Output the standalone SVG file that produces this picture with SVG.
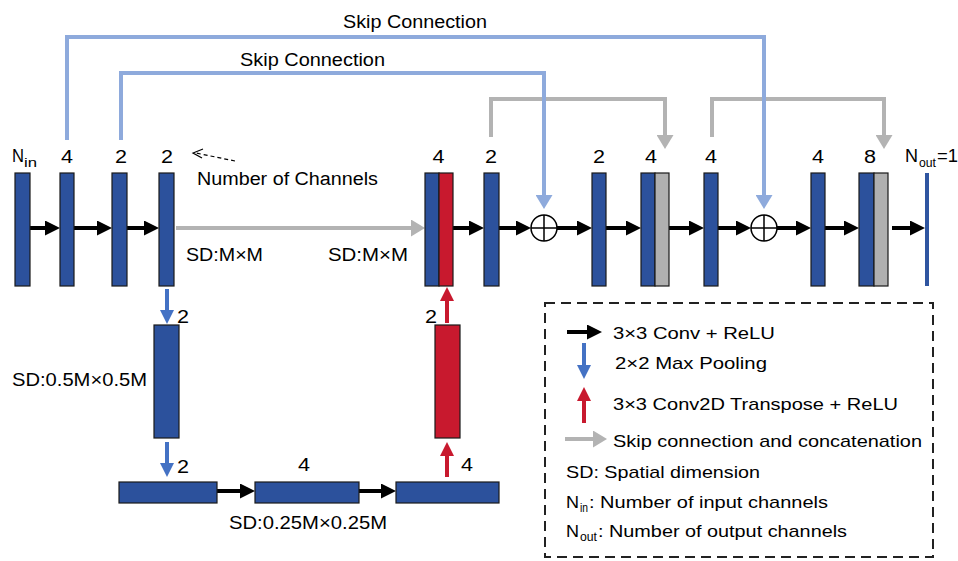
<svg xmlns="http://www.w3.org/2000/svg" width="958" height="561" viewBox="0 0 958 561">
  <style>
    text { font-family: "Liberation Sans", Arial, sans-serif; fill: #000; }
    .lbl { font-size: 18px; }
    .num { font-size: 18px; text-anchor: middle; }
    .leg { font-size: 17px; }
    .sub { font-size: 12px; }
    .blk { fill: #2c519c; stroke: #1a1a1a; stroke-width: 1.2; }
    .red { fill: #c8192e; stroke: #1a1a1a; stroke-width: 1.2; }
    .gry { fill: #b0b0b0; stroke: #1a1a1a; stroke-width: 1.2; }
    .conv { fill: none; stroke: #000; stroke-width: 4; marker-end: url(#hBlack); }
    .cat { fill: none; stroke: #b3b3b3; stroke-width: 4; marker-end: url(#hGray); }
    .skip { fill: none; stroke: #8eaadc; stroke-width: 4; marker-end: url(#hSky); }
    .pool { fill: none; stroke: #4472c4; stroke-width: 4; marker-end: url(#hBlue); }
    .up { fill: none; stroke: #c8192e; stroke-width: 4; marker-end: url(#hRed); }
    .sum { fill: #fff; stroke: #000; stroke-width: 1.5; }
  </style>
  <defs>
    <marker id="hBlack" markerUnits="userSpaceOnUse" markerWidth="15" markerHeight="15" refX="11" refY="7.5" orient="auto">
      <path d="M0,0 L15,7.5 L0,15 z" fill="#000"/>
    </marker>
    <marker id="hGray" markerUnits="userSpaceOnUse" markerWidth="14" markerHeight="17" refX="10" refY="8.5" orient="auto">
      <path d="M0,0 L14,8.5 L0,17 z" fill="#b3b3b3"/>
    </marker>
    <marker id="hSky" markerUnits="userSpaceOnUse" markerWidth="14" markerHeight="17" refX="10" refY="8.5" orient="auto">
      <path d="M0,0 L14,8.5 L0,17 z" fill="#8eaadc"/>
    </marker>
    <marker id="hBlue" markerUnits="userSpaceOnUse" markerWidth="14" markerHeight="14" refX="10" refY="7" orient="auto">
      <path d="M0,0 L14,7 L0,14 z" fill="#4472c4"/>
    </marker>
    <marker id="hRed" markerUnits="userSpaceOnUse" markerWidth="14" markerHeight="14" refX="10" refY="7" orient="auto">
      <path d="M0,0 L14,7 L0,14 z" fill="#c8192e"/>
    </marker>
  </defs>

  <!-- connectors -->
  <g id="connectors">
    <!-- concatenation skips (drawn below the long skips) -->
    <path class="cat" d="M491,137 V99 H665 V145"/>
    <path class="cat" d="M712,137 V99 H884 V145"/>
    <!-- long skip connections into the adders -->
    <path class="skip" d="M67,140 V37 H764 V205"/>
    <path class="skip" d="M121,140 V73 H544 V205"/>
    <!-- encoder convolutions -->
    <path class="conv" d="M30,228 H56"/>
    <path class="conv" d="M74,228 H108"/>
    <path class="conv" d="M127,228 H155"/>
    <!-- skip and concatenation at full resolution -->
    <path class="cat" d="M176,228 H421"/>
    <!-- decoder convolutions -->
    <path class="conv" d="M453,228 H480"/>
    <path class="conv" d="M499,228 H527"/>
    <path class="conv" d="M557,228 H588"/>
    <path class="conv" d="M606,228 H637"/>
    <path class="conv" d="M669,228 H700"/>
    <path class="conv" d="M718,228 H747"/>
    <path class="conv" d="M777,228 H807"/>
    <path class="conv" d="M825,228 H855"/>
    <path class="conv" d="M892,228 H921"/>
    <!-- bottleneck -->
    <path class="conv" d="M217,491 H251"/>
    <path class="conv" d="M359,491 H392"/>
    <!-- pooling -->
    <path class="pool" d="M167,289 V320"/>
    <path class="pool" d="M167,442 V473"/>
    <!-- transpose convolutions -->
    <path class="up" d="M447,477 V446"/>
    <path class="up" d="M447,323 V291"/>
    <!-- channel-count pointer -->
    <path d="M235,161 L196,153" fill="none" stroke="#000" stroke-width="1.2" stroke-dasharray="4,3"/>
    <path d="M203,149 L193,153 L202,158" fill="none" stroke="#000" stroke-width="1.2"/>
  </g>

  <!-- skip labels -->
  <text class="lbl" x="343" y="28" textLength="144" lengthAdjust="spacingAndGlyphs">Skip Connection</text>
  <text class="lbl" x="240" y="66" textLength="145" lengthAdjust="spacingAndGlyphs">Skip Connection</text>
  <text class="lbl" x="197" y="185" textLength="181" lengthAdjust="spacingAndGlyphs">Number of Channels</text>

  <!-- encoder -->
  <g id="in">
    <rect class="blk" x="15" y="173" width="15" height="113"/>
    <text class="lbl" x="12" y="162" textLength="12" lengthAdjust="spacingAndGlyphs">N</text>
    <text class="sub" x="24" y="167" textLength="13" lengthAdjust="spacingAndGlyphs">in</text>
  </g>
  <g id="enc1">
    <rect class="blk" x="60" y="173" width="14" height="113"/>
    <text class="num" x="67" y="163" textLength="12" lengthAdjust="spacingAndGlyphs">4</text>
  </g>
  <g id="enc2">
    <rect class="blk" x="112" y="173" width="15" height="113"/>
    <text class="num" x="121" y="163" textLength="12" lengthAdjust="spacingAndGlyphs">2</text>
  </g>
  <g id="enc3">
    <rect class="blk" x="159" y="173" width="15" height="113"/>
    <text class="num" x="167" y="163" textLength="12" lengthAdjust="spacingAndGlyphs">2</text>
    <text class="lbl" x="186" y="261" textLength="77" lengthAdjust="spacingAndGlyphs">SD:M×M</text>
  </g>
  <g id="down1">
    <rect class="blk" x="154" y="325" width="25" height="113"/>
    <text class="num" x="183" y="323" textLength="12" lengthAdjust="spacingAndGlyphs">2</text>
    <text class="lbl" x="12" y="386" textLength="135" lengthAdjust="spacingAndGlyphs">SD:0.5M×0.5M</text>
  </g>
  <g id="bott1">
    <rect class="blk" x="119" y="482" width="98" height="21"/>
    <text class="num" x="183" y="473" textLength="12" lengthAdjust="spacingAndGlyphs">2</text>
  </g>
  <g id="bott2">
    <rect class="blk" x="255" y="482" width="104" height="21"/>
    <text class="num" x="304" y="471" textLength="12" lengthAdjust="spacingAndGlyphs">4</text>
    <text class="lbl" x="229" y="529" textLength="158" lengthAdjust="spacingAndGlyphs">SD:0.25M×0.25M</text>
  </g>
  <g id="bott3">
    <rect class="blk" x="396" y="482" width="103" height="21"/>
    <text class="num" x="467" y="471" textLength="12" lengthAdjust="spacingAndGlyphs">4</text>
  </g>
  <g id="up1">
    <rect class="red" x="435" y="325" width="25" height="113"/>
    <text class="num" x="431" y="323" textLength="12" lengthAdjust="spacingAndGlyphs">2</text>
  </g>

  <!-- decoder -->
  <g id="cat1">
    <rect class="blk" x="425" y="173" width="14" height="113"/>
    <rect class="red" x="439" y="173" width="14" height="113"/>
    <text class="num" x="438.5" y="163" textLength="12" lengthAdjust="spacingAndGlyphs">4</text>
    <text class="lbl" x="328" y="261" textLength="80" lengthAdjust="spacingAndGlyphs">SD:M×M</text>
  </g>
  <g id="dec1">
    <rect class="blk" x="484" y="173" width="15" height="113"/>
    <text class="num" x="491" y="163" textLength="12" lengthAdjust="spacingAndGlyphs">2</text>
  </g>
  <g id="add1">
    <circle class="sum" cx="544" cy="228" r="13"/>
    <path d="M531,228 H557 M544,215 V241" stroke="#000" stroke-width="1.5"/>
  </g>
  <g id="dec2">
    <rect class="blk" x="592" y="173" width="14" height="113"/>
    <text class="num" x="599" y="163" textLength="12" lengthAdjust="spacingAndGlyphs">2</text>
  </g>
  <g id="cat2">
    <rect class="blk" x="641" y="173" width="14" height="113"/>
    <rect class="gry" x="655" y="173" width="14" height="113"/>
    <text class="num" x="651" y="163" textLength="12" lengthAdjust="spacingAndGlyphs">4</text>
  </g>
  <g id="dec3">
    <rect class="blk" x="704" y="173" width="14" height="113"/>
    <text class="num" x="711" y="163" textLength="12" lengthAdjust="spacingAndGlyphs">4</text>
  </g>
  <g id="add2">
    <circle class="sum" cx="764" cy="228" r="13"/>
    <path d="M751,228 H777 M764,215 V241" stroke="#000" stroke-width="1.5"/>
  </g>
  <g id="dec4">
    <rect class="blk" x="811" y="173" width="14" height="113"/>
    <text class="num" x="818" y="163" textLength="12" lengthAdjust="spacingAndGlyphs">4</text>
  </g>
  <g id="cat3">
    <rect class="blk" x="859" y="173" width="15" height="113"/>
    <rect class="gry" x="874" y="173" width="14" height="113"/>
    <text class="num" x="870" y="163" textLength="12" lengthAdjust="spacingAndGlyphs">8</text>
  </g>
  <g id="out">
    <rect x="925" y="173" width="4" height="113" fill="#2f55a0"/>
    <text class="lbl" x="905" y="162" textLength="13" lengthAdjust="spacingAndGlyphs">N</text>
    <text class="sub" x="919" y="167" textLength="17" lengthAdjust="spacingAndGlyphs">out</text>
    <text class="lbl" x="937" y="162" textLength="21" lengthAdjust="spacingAndGlyphs">=1</text>
  </g>

  <!-- legend -->
  <g id="legend">
    <rect x="545" y="303" width="388" height="254" fill="none" stroke="#222" stroke-width="2" stroke-dasharray="10,6"/>
    <path class="conv" d="M567,332 H598"/>
    <text class="leg" x="613" y="339" textLength="162" lengthAdjust="spacingAndGlyphs">3×3 Conv + ReLU</text>
    <path class="pool" d="M584,343 V375"/>
    <text class="leg" x="615" y="369" textLength="152" lengthAdjust="spacingAndGlyphs">2×2 Max Pooling</text>
    <path class="up" d="M584,423 V391"/>
    <text class="leg" x="613" y="410" textLength="285" lengthAdjust="spacingAndGlyphs">3×3 Conv2D Transpose + ReLU</text>
    <path class="cat" d="M565,439 H603" stroke-width="5"/>
    <text class="leg" x="613" y="447" textLength="309" lengthAdjust="spacingAndGlyphs">Skip connection and concatenation</text>
    <text class="leg" x="566" y="478" textLength="194" lengthAdjust="spacingAndGlyphs">SD: Spatial dimension</text>
    <text class="leg" x="566" y="508" textLength="13" lengthAdjust="spacingAndGlyphs">N</text>
    <text class="sub" x="580" y="512" textLength="8" lengthAdjust="spacingAndGlyphs">in</text>
    <text class="leg" x="589" y="508" textLength="239" lengthAdjust="spacingAndGlyphs">: Number of input channels</text>
    <text class="leg" x="566" y="537" textLength="13" lengthAdjust="spacingAndGlyphs">N</text>
    <text class="sub" x="580" y="541" textLength="17" lengthAdjust="spacingAndGlyphs">out</text>
    <text class="leg" x="598" y="537" textLength="249" lengthAdjust="spacingAndGlyphs">: Number of output channels</text>
  </g>
</svg>
